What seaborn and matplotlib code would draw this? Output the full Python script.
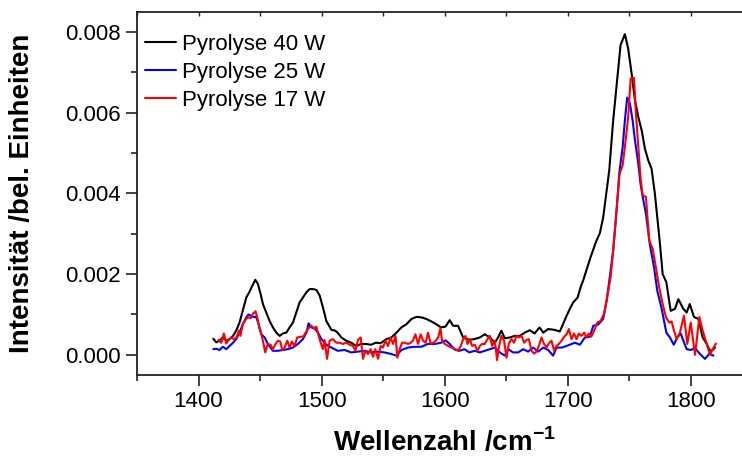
import numpy as np
import pandas as pd
import matplotlib
matplotlib.use('Agg')
import matplotlib.pyplot as plt
from matplotlib.ticker import MultipleLocator, FormatStrFormatter
import seaborn as sns

# Spektren (Intensitaet in 1e-3 bel. Einheiten)
wn_40 = [1412, 1414.4, 1417, 1419.8, 1422.5, 1425.2, 1428, 1430.6, 1433.3, 1436, 1438.8, 1441.5,
         1443.6, 1446.1, 1448.2, 1450.4, 1452.3, 1455, 1457.7, 1460.4, 1463.2, 1465.9, 1468.5,
         1471.3, 1474, 1476.7, 1479.4, 1482.1, 1484.8, 1487.6, 1490.2, 1492.9, 1495.7, 1498.4,
         1501.1, 1503.8, 1507.9, 1511, 1513, 1516, 1520, 1524, 1528, 1532, 1536, 1540, 1544, 1548,
         1552.6, 1556.7, 1560.7, 1564.8, 1568.9, 1573, 1577, 1581, 1585, 1589, 1593, 1597, 1600.6,
         1604, 1606.8, 1610.8, 1614.9, 1620, 1624, 1628.5, 1632.5, 1636.6, 1640.7, 1643.3, 1646,
         1648.8, 1652.8, 1656.9, 1661, 1665, 1669, 1673, 1677, 1680, 1684, 1689, 1693.5, 1696, 1699,
         1701.6, 1704.3, 1707.9, 1710.6, 1712.4, 1718, 1722.8, 1726, 1728.7, 1731.5, 1733.6, 1736.8,
         1740, 1742.8, 1746.3, 1749, 1751.8, 1754.5, 1757.2, 1760, 1762.6, 1765.3, 1768, 1770.7,
         1772.6, 1774.8, 1777, 1780, 1783.5, 1787, 1789.7, 1793.8, 1796.5, 1799, 1802.4, 1806,
         1809.5, 1812.8, 1815.4, 1817.6, 1819.5]
int_40 = [0.40, 0.31, 0.35, 0.43, 0.35, 0.39, 0.47, 0.60, 0.80, 1.10, 1.42, 1.57,
          1.71, 1.86, 1.76, 1.51, 1.26, 1.05, 0.84, 0.68, 0.55, 0.47, 0.53,
          0.55, 0.68, 0.80, 1.05, 1.30, 1.42, 1.55, 1.63, 1.63, 1.61, 1.47,
          1.17, 0.84, 0.62, 0.60, 0.55, 0.43, 0.35, 0.30, 0.22, 0.27, 0.27, 0.25, 0.30, 0.29,
          0.39, 0.43, 0.55, 0.68, 0.76, 0.89, 0.94, 0.93, 0.89, 0.83, 0.76, 0.68, 0.70,
          0.86, 0.72, 0.72, 0.43, 0.37, 0.39, 0.43, 0.51, 0.43, 0.30, 0.43, 0.60,
          0.41, 0.43, 0.47, 0.47, 0.55, 0.61, 0.53, 0.68, 0.55, 0.64, 0.62, 0.58, 0.76, 0.97,
          1.14, 1.30, 1.42, 1.70, 1.84, 2.38, 2.80, 3.02, 3.41, 4.07, 4.57, 5.81,
          6.81, 7.68, 7.95, 7.59, 6.97, 6.31, 5.90, 5.56, 5.11, 4.82, 4.61, 3.99,
          3.41, 2.75, 2.00, 1.80, 1.09, 1.14, 1.38, 1.14, 1.05, 1.26, 0.94, 0.89,
          0.43, 0.27, 0.10, 0.12, 0.18]

wn_25 = [1412, 1414.4, 1417, 1419.8, 1422.5, 1425.2, 1428, 1430.6, 1433.3, 1436, 1438.8, 1440.6,
         1444, 1446.8, 1448.8, 1451, 1453.7, 1456.3, 1460.4, 1464.5, 1468.5, 1472.6, 1476.7,
         1480.7, 1484.8, 1487.6, 1489.4, 1491.6, 1494.3, 1497, 1499.8, 1503.8, 1508, 1513, 1518.7,
         1524, 1529.5, 1535, 1540, 1545.8, 1551, 1556.7, 1560.7, 1564.8, 1570, 1575.6, 1581,
         1586.4, 1592, 1597, 1600.6, 1604, 1608, 1612, 1616, 1620, 1624.4, 1628.5, 1632.5, 1636.6,
         1640.7, 1644.7, 1648.8, 1651.5, 1655.5, 1659.6, 1663.7, 1667.7, 1671.8, 1675.9, 1680, 1684,
         1688, 1690.8, 1694.9, 1699, 1703, 1705.7, 1709.8, 1713.8, 1717.9, 1720.6, 1724.6, 1728.7,
         1731.5, 1734, 1736.8, 1739.6, 1741.7, 1744.5, 1746.3, 1748.2, 1750.4, 1752.6, 1754.5,
         1757.2, 1759, 1761, 1763.4, 1766.7, 1770, 1772.6, 1776, 1780, 1782.9, 1786, 1788.9,
         1791.6, 1793.8, 1796.5, 1799.8, 1803.3, 1807.3, 1811.4, 1815, 1818.2]
int_25 = [0.14, 0.15, 0.12, 0.20, 0.14, 0.22, 0.30, 0.39, 0.55, 0.76, 0.93, 1.00,
          0.94, 0.94, 0.76, 0.51, 0.43, 0.27, 0.10, 0.10, 0.12, 0.14, 0.18,
          0.27, 0.39, 0.55, 0.78, 0.68, 0.65, 0.55, 0.39, 0.25, 0.18, 0.10, 0.12,
          0.06, 0.08, 0.10, 0.06, 0.08, 0.06, 0.02, -0.02, 0.12, 0.18, 0.20, 0.20,
          0.27, 0.27, 0.30, 0.36, 0.27, 0.13, 0.10, 0.14, 0.06, 0.10, 0.06, 0.10, 0.14,
          0.18, 0.06, -0.02, 0.14, 0.06, 0.06, 0.14, 0.08, 0.18, 0.08, 0.18, 0.12,
          -0.02, 0.18, 0.18, 0.22, 0.27, 0.30, 0.25, 0.43, 0.45, 0.72, 0.75, 0.89,
          1.34, 1.92, 2.58, 3.58, 4.49, 5.15, 5.81, 6.38, 6.23, 5.81, 5.32,
          4.74, 4.24, 3.88, 3.50, 2.71, 2.17, 1.59, 1.17, 0.55, 0.43, 0.25, 0.43,
          0.53, 0.35, 0.14, 0.12, 0.17, 0.02, -0.10, 0.03, -0.02]

wn_17 = [1416.3, 1418.4, 1420.6, 1422.5, 1424.4, 1426.6, 1428.7, 1430.9, 1432.8, 1434, 1436, 1438,
         1440, 1442.3, 1444, 1446.3, 1447.7, 1449.6, 1451, 1452.3, 1454.2, 1456.3, 1458.5, 1460.4,
         1462.6, 1464.5, 1466.4, 1468, 1469.9, 1472.1, 1474, 1475.8, 1478, 1480.2, 1483, 1485,
         1487, 1489.4, 1491.6, 1493.7, 1495.7, 1497.6, 1499.2, 1501, 1502.4, 1504.4, 1506.5, 1509,
         1512, 1514.6, 1517.3, 1520, 1522.8, 1525.4, 1527.4, 1529.5, 1531.7, 1533.6, 1535.5,
         1537.6, 1539.8, 1541.7, 1543.6, 1545.8, 1548, 1549.8, 1551.8, 1553.9, 1556, 1558, 1560,
         1561.5, 1563.4, 1565.3, 1567.5, 1570.2, 1572.4, 1574.2, 1576.2, 1578.3, 1580.5, 1582.4,
         1584.5, 1586.4, 1588.6, 1590.8, 1592.7, 1594.6, 1596.5, 1597.8, 1600, 1604, 1608, 1610.8,
         1613, 1615, 1616.8, 1618.5, 1620.3, 1622.2, 1624.4, 1626.6, 1628.5, 1630.3, 1632.5,
         1634.7, 1636.6, 1638.5, 1640.7, 1642.5, 1644.2, 1646, 1648.2, 1650.2, 1652, 1654.2,
         1656.3, 1658.3, 1660.2, 1662.4, 1664.5, 1666.4, 1668.3, 1670.5, 1672.6, 1674.5, 1676.4,
         1678.6, 1680.5, 1682.7, 1684.5, 1686.7, 1688.9, 1690.8, 1692.7, 1694.9, 1697, 1699,
         1700.8, 1703, 1705, 1707, 1709, 1711, 1713.3, 1715, 1717, 1719, 1721.4, 1723.8, 1726.6,
         1729.3, 1731.9, 1734.7, 1736.8, 1739, 1740.9, 1742, 1744.5, 1746.3, 1749, 1751, 1753.7,
         1755.3, 1757.2, 1759, 1760.7, 1763.4, 1766.1, 1768.9, 1771.5, 1774.2, 1777, 1779.7,
         1782.4, 1784.3, 1786.2, 1788.4, 1791, 1794.3, 1797, 1799.8, 1803.3, 1806.8, 1809.5,
         1812.8, 1815.4, 1817.6, 1820.3]
int_17 = [0.37, 0.30, 0.53, 0.28, 0.37, 0.43, 0.39, 0.43, 0.60, 0.47, 0.76, 0.86,
          0.93, 0.91, 1.01, 1.08, 0.93, 0.64, 0.51, 0.35, 0.06, 0.27, 0.25, 0.14,
          0.27, 0.35, 0.33, 0.12, 0.18, 0.35, 0.18, 0.33, 0.22, 0.43, 0.45, 0.45,
          0.55, 0.66, 0.72, 0.66, 0.70, 0.47, 0.30, 0.14, 0.37, -0.10, 0.35, 0.39,
          0.30, 0.30, 0.27, 0.30, 0.25, 0.22, 0.10, 0.37, 0.43, -0.10, 0.10,
          0.02, 0.14, -0.05, 0.14, -0.10, 0.22, 0.18, 0.35, 0.22, 0.43, 0.27, 0.47,
          -0.07, 0.14, 0.30, 0.30, 0.27, 0.30, 0.35, 0.51, 0.27, 0.51, 0.35,
          0.30, 0.55, 0.27, 0.30, 0.35, 0.43, 0.66, 0.35, 0.27, 0.20, 0.15, 0.10,
          0.22, 0.39, 0.47, 0.27, 0.39, 0.22, 0.25, 0.10, 0.22, 0.27, 0.27,
          0.39, 0.47, 0.22, 0.35, -0.13, 0.22, 0.47, 0.35, -0.07, 0.27, 0.39,
          0.30, 0.47, 0.43, 0.47, 0.30, 0.37, 0.39, 0.10, 0.03, 0.08, 0.22,
          0.43, 0.28, 0.18, 0.28, 0.35, 0.10, 0.22, 0.27, 0.35, 0.45, 0.51,
          0.64, 0.39, 0.53, 0.39, 0.53, 0.47, 0.55, 0.43, 0.53, 0.45, 0.60, 0.80, 0.84,
          1.01, 1.42, 1.92, 2.58, 3.41, 4.07, 4.49, 4.70, 5.15, 5.90, 6.85, 6.87,
          5.98, 5.15, 4.40, 3.95, 3.92, 2.83, 2.63, 2.17, 1.67, 1.26, 0.93,
          0.80, 0.83, 0.60, 0.39, 0.55, 0.97, 0.27, 0.80, 0.00, 0.94, 0.60,
          0.27, 0.00, 0.14, 0.28]

labels = ['Pyrolyse 40 W', 'Pyrolyse 25 W', 'Pyrolyse 17 W']
colors = ['black', '#0000ff', '#ff0000']

parts = []
for lab, wn, it in zip(labels, [wn_40, wn_25, wn_17], [int_40, int_25, int_17]):
    parts.append(pd.DataFrame({'wn': wn, 'I': np.array(it) * 1e-3, 'Probe': lab}))
df = pd.concat(parts, ignore_index=True)

sns.set_style('ticks')
plt.rcParams['font.family'] = ['Liberation Sans', 'DejaVu Sans']
plt.rcParams['mathtext.fontset'] = 'custom'
plt.rcParams['mathtext.rm'] = 'Liberation Sans'
plt.rcParams['mathtext.bf'] = 'Liberation Sans:bold'
plt.rcParams['axes.linewidth'] = 1.3
plt.rcParams['axes.edgecolor'] = '#222222'
for k in ['text.color', 'axes.labelcolor', 'xtick.labelcolor', 'ytick.labelcolor']:
    plt.rcParams[k] = 'black'

fig = plt.figure(figsize=(7.42, 4.59), dpi=100)
ax = fig.add_axes([0.1846, 0.183, 1.0142 - 0.1846, 0.9739 - 0.183])

sns.lineplot(data=df, x='wn', y='I', hue='Probe', hue_order=labels,
             palette=dict(zip(labels, colors)), estimator=None, sort=False,
             linewidth=1.5, ax=ax)

ax.set_xlim(1350, 1850)
ax.set_ylim(-0.0005, 0.0085)
ax.xaxis.set_major_locator(MultipleLocator(100))
ax.xaxis.set_minor_locator(MultipleLocator(50))
ax.yaxis.set_major_locator(MultipleLocator(0.002))
ax.yaxis.set_minor_locator(MultipleLocator(0.001))
ax.yaxis.set_major_formatter(FormatStrFormatter('%.3f'))
ax.tick_params(which='major', direction='out', length=8, width=1.2, labelsize=16, color='#222222')
ax.tick_params(which='minor', direction='out', length=4, width=1.2, color='#222222')
ax.spines['right'].set_visible(False)

top = ax.secondary_xaxis('top')
top.xaxis.set_major_locator(MultipleLocator(100))
top.xaxis.set_minor_locator(MultipleLocator(50))
top.tick_params(which='both', direction='in', length=3, width=1.0, labeltop=False, color='#222222')
top.spines['top'].set_visible(False)

ax.set_xlabel('Wellenzahl /cm$^{\\mathbf{-1}}$', fontsize=20, fontweight='bold', labelpad=11)
ax.set_ylabel('Intensität /bel. Einheiten', fontsize=20, fontweight='bold', labelpad=22)

ax.legend(loc='upper left', bbox_to_anchor=(0.013, 0.94), frameon=False, fontsize=16,
          handlelength=1.4, handletextpad=0.27, labelspacing=0.31, borderpad=0, borderaxespad=0)

fig.savefig('out.png', dpi=100)
